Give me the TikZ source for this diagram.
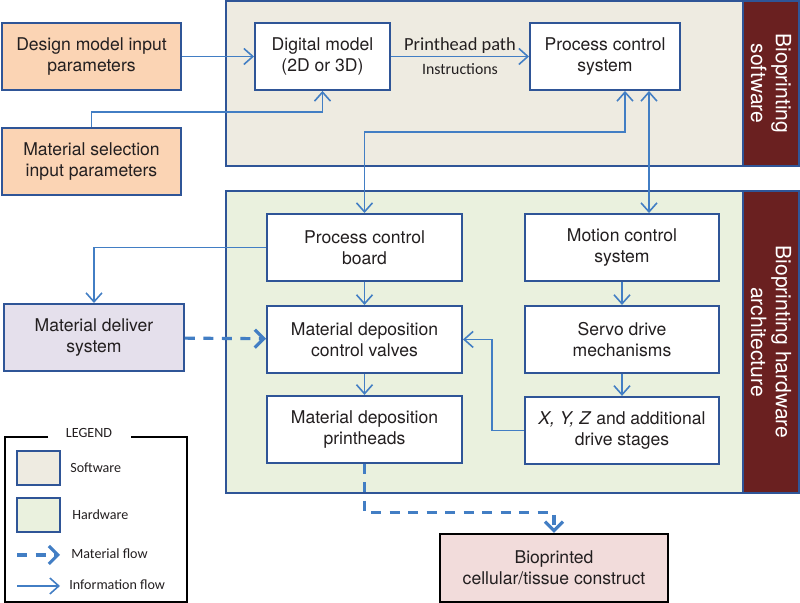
\documentclass[tikz,border=0pt]{standalone}
\usepackage{fontspec}
\setmainfont{TeX Gyre Heros}
\newfontfamily\calfont{Carlito}
\usepackage{tikz}
\usetikzlibrary{arrows.meta, positioning, calc}
\definecolor{myblue}{RGB}{47,85,151}
\definecolor{flowblue}{RGB}{66,126,196}
\definecolor{mytext}{RGB}{35,31,32}
\definecolor{hdrorange}{RGB}{251,212,180}
\definecolor{hdrlilac}{RGB}{229,224,236}
\definecolor{hdrpink}{RGB}{242,220,219}
\definecolor{swfill}{RGB}{238,235,225}
\definecolor{hwfill}{RGB}{234,241,222}
\definecolor{mymaroon}{RGB}{106,32,32}
\tikzset{
  line/.style={draw=myblue, line width=1.1pt},
  arrow/.style={draw=flowblue, line width=0.9pt, -{Straight Barb[length=1.8mm, width=3.2mm]}},
  darrow/.style={arrow, {Straight Barb[length=1.8mm, width=3.2mm]}-{Straight Barb[length=1.8mm, width=3.2mm]}},
  mflow/.style={draw=flowblue, line width=1.8pt, dash pattern=on 2mm off 1.7mm, -{Straight Barb[length=1.8mm, width=3.6mm]}},
  block/.style={draw=myblue, fill=white, line width=1.1pt, rectangle, align=center, inner sep=0pt, text=mytext, font=\fontsize{10}{12}\selectfont, minimum height=13.4mm},
  inblock/.style={block, fill=hdrorange, minimum width=35.8mm},
  dblock/.style={block, fill=hdrlilac, minimum width=36mm},
  oblock/.style={block, draw=black, line width=1.4pt, fill=hdrpink, minimum width=45.6mm, minimum height=13.6mm},
  sidelabel/.style={rotate=-90, align=center, text=white, font=\fontsize{12}{14}\selectfont},
  flowlabel/.style={text=mytext, inner sep=0pt},
  legtext/.style={font=\calfont\fontsize{8}{10}\selectfont, text=mytext, inner sep=0pt, anchor=west},
  swatch/.style={line, minimum width=8.6mm, minimum height=6.8mm, inner sep=0pt}
}
\begin{document}
\begin{tikzpicture}[x=0.2mm, y=-0.2mm, node distance=4.6mm]
  \useasboundingbox (0,0) rectangle (800,603);

  \fill[swfill] (226,1) rectangle (743,166);
  \fill[mymaroon] (743,1) rectangle (799,166);
  \draw[line] (226,1) rectangle (799,166) (743,1) -- (743,166);
  \fill[hwfill] (226,191) rectangle (743,493);
  \fill[mymaroon] (743,191) rectangle (799,493);
  \draw[line] (226,191) rectangle (799,493) (743,191) -- (743,493);
  \node[sidelabel] (swlbl) at (771,83.5) {Bioprinting\\software};
  \node[sidelabel] (hwlbl) at (771,342) {Bioprinting hardware\\architecture};

  \node[inblock] (design) at (91.5,56.5) {Design model input\\parameters};
  \node[inblock] (matsel) at (91.5,161.5) {Material selection\\input parameters};
  \node[block, minimum width=27mm] (digital) at (322.5,56.5) {Digital model\\(2D or 3D)};
  \node[block, minimum width=30mm] (pcs) at (605,56.5) {Process control\\system};

  \node[block, minimum width=39mm] (pcb) at (364.5,247.5) {Process control\\board};
  \node[block, minimum width=39mm, below=of pcb] (valves) {Material deposition\\control valves};
  \node[block, minimum width=39mm, below=4.2mm of valves] (heads) {Material deposition\\printheads};
  \node[block, minimum width=38.8mm] (mcs) at (622,247.5) {Motion control\\system};
  \node[block, minimum width=38.8mm, below=of mcs] (servo) {Servo drive\\mechanisms};
  \node[block, minimum width=38.8mm, below=4.4mm of servo] (stages) {\textit{X, Y, Z} and additional\\drive stages};
  \node[dblock] (deliver) at (94,337.5) {Material deliver\\system};
  \node[oblock] (construct) at (554,568) {Bioprinted\\cellular/tissue construct};

  \draw[arrow] (design) -- (digital);
  \draw[arrow] (digital) -- node[flowlabel, above=0.5mm, font=\calfont\fontsize{10.5}{12}\selectfont] (pathlbl) {Printhead path} node[flowlabel, below=1.2mm, font=\calfont\fontsize{9}{11}\selectfont] (instrlbl) {Instructions} (pcs);
  \draw[arrow] (matsel.north) -- ++(0,-15) -| (digital.south);
  \draw[darrow] (pcb.north) -- ++(0,-81) -| ($(pcs.south)+(20,0)$);
  \draw[darrow] ($(pcs.south)+(44,0)$) -- ($(mcs.north)+(27,0)$);
  \draw[arrow] (pcb.west) -| (deliver.north);
  \draw[arrow] (pcb) -- (valves);
  \draw[arrow] (valves) -- (heads);
  \draw[arrow] (mcs) -- (servo);
  \draw[arrow] (servo) -- (stages);
  \draw[arrow] (stages.west) -- ++(-32,0) |- (valves.east);
  \draw[mflow] (deliver) -- (valves);
  \draw[mflow] (heads.south) -- ++(0,49) -| (construct.north);

  \draw[black, line width=1.1pt] (48,437) -- (5,437) -- (5,602) -- (187,602) -- (187,437) -- (131,437);
  \node[legtext, anchor=center] (legtitle) at (89,433) {LEGEND};
  \node[swatch, fill=swfill] (lgsw) at (38.5,468) {};
  \node[legtext, right=1.8mm of lgsw] (lgswtxt) {Software};
  \node[swatch, fill=hwfill] (lghw) at (38.5,515) {};
  \node[legtext, right=2.2mm of lghw] (lghwtxt) {Hardware};
  \coordinate (lgm1) at (17,555);
  \coordinate (lgm2) at (60,555);
  \draw[mflow] (lgm1) -- (lgm2);
  \node[legtext] (lgmtxt) at (71,554) {Material flow};
  \coordinate (lgi1) at (17,586);
  \coordinate (lgi2) at (60,586);
  \draw[arrow] (lgi1) -- (lgi2);
  \node[legtext] (lgitxt) at (69,585) {Information flow};
\end{tikzpicture}
\end{document}
